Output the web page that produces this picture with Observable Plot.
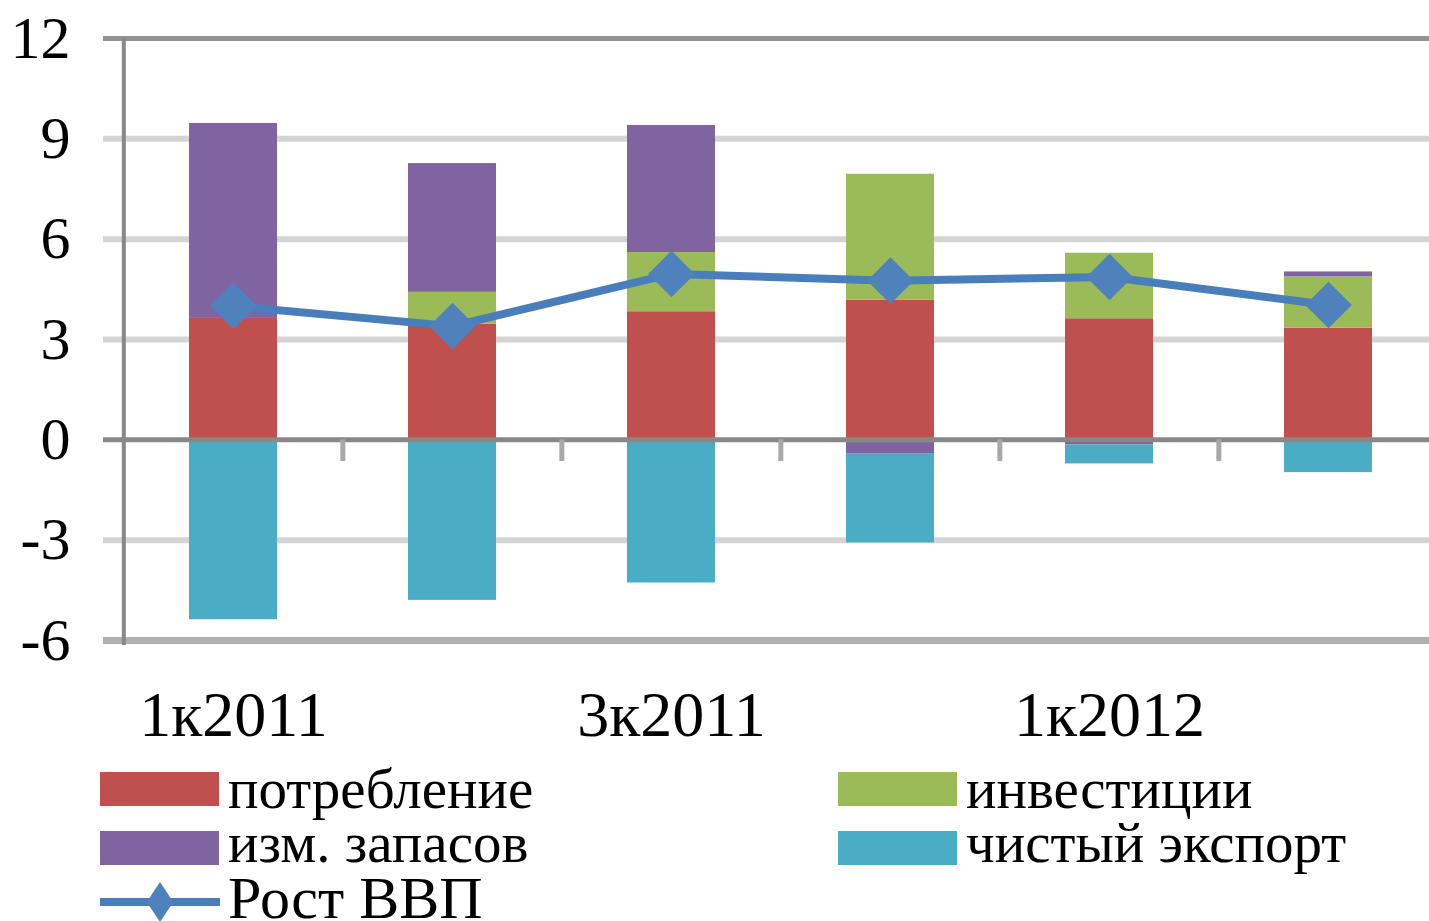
<!DOCTYPE html>
<html>
<head>
<meta charset="utf-8">
<script src="https://cdn.jsdelivr.net/npm/d3@7"></script>
<script src="https://cdn.jsdelivr.net/npm/@observablehq/plot@0.6"></script>
<style>
  html, body { margin: 0; padding: 0; background: #fff; }
  #chart svg { display: block; }
  #legend { margin-top: -20px; position: relative; }
  #legend svg { display: block; }
</style>
</head>
<body>
<div id="chart"></div>
<div id="legend"></div>
<script>
// ---- data ----
const quarters = ["1к2011", "2к2011", "3к2011", "4к2011", "1к2012", "2к2012"];
const shownLabels = ["1к2011", "3к2011", "1к2012"];
const seriesNames = ["потребление", "инвестиции", "изм. запасов", "чистый экспорт"];
const seriesColors = ["#C0504D", "#9BBB59", "#8064A2", "#4BACC6"];
const consumption = [3.63, 3.46, 3.83, 4.17, 3.62, 3.34];
const investment  = [0.0, 0.95, 1.77, 3.77, 1.96, 1.53];
const inventories = [5.83, 3.85, 3.80, -0.41, -0.15, 0.15];
const netExport   = [-5.38, -4.80, -4.28, -2.67, -0.57, -0.98];
const gdpName = "Рост ВВП";
const gdpGrowth   = [4.0, 3.4, 4.96, 4.76, 4.87, 4.03];
const yTicks = [-6, -3, 0, 3, 6, 9, 12];

const seriesValues = [consumption, investment, inventories, netExport];
const bars = [];
seriesNames.forEach((s, si) => {
  quarters.forEach((q, qi) => bars.push({q, s, v: seriesValues[si][qi]}));
});
const gdp = quarters.map((q, i) => ({q, v: gdpGrowth[i]}));

// ---- layout ----
const W = 1429, H = 760;
const xLeft = 122, xRight = 1438;
const STEP = (xRight - xLeft) / quarters.length;
const FONT = "'Liberation Serif', 'Times New Roman', serif";

const chart = Plot.plot({
  width: W,
  height: H,
  marginLeft: xLeft,
  marginRight: 0,
  marginTop: 38,
  marginBottom: 120,
  style: {fontFamily: FONT, fontSize: "60px", color: "#000", background: "transparent", overflow: "visible"},
  x: {domain: quarters, range: [xLeft, xRight], paddingInner: 0.6, paddingOuter: 0.3, axis: null, label: null},
  y: {domain: [-6, 12], axis: null, label: null},
  color: {domain: seriesNames, range: seriesColors},
  marks: [
    // gridlines
    Plot.ruleY(yTicks.filter(d => d !== 0 && d !== 12 && d !== -6), {stroke: "#d4d4d4", strokeWidth: 6, insetLeft: -19}),
    Plot.ruleY([12], {stroke: "#929292", strokeWidth: 5, insetLeft: -19}),
    Plot.ruleY([-6], {stroke: "#b0b0b0", strokeWidth: 7, insetLeft: -19}),
    // bars
    Plot.barY(bars, {x: "q", y: "v", fill: "s", order: seriesNames}),
    // zero axis line
    Plot.ruleY([0], {stroke: "#888888", strokeWidth: 5, insetLeft: -19}),
    // category separator ticks
    Plot.ruleX(quarters.slice(1), {x: d => d, dx: -STEP / 2, y1: 0, y2: -0.65, stroke: "#a8a8a8", strokeWidth: 5}),
    // left axis line
    Plot.ruleX([quarters[0]], {x: d => d, dx: -STEP / 2, y1: -6.15, y2: 12, stroke: "#888888", strokeWidth: 4}),
    // GDP line
    Plot.line(gdp, {x: "q", y: "v", stroke: "#4A7EBB", strokeWidth: 8}),
    Plot.dot(gdp, {x: "q", y: "v", symbol: "diamond2", r: 21, fill: "#4F81BD", stroke: "none"}),
    // y axis labels
    Plot.axisY({ticks: yTicks, tickSize: 0, tickPadding: 52, tickFormat: d => String(d), fontSize: 60, label: null}),
    // x axis labels
    Plot.axisX({anchor: "bottom", tickSize: 0, tickPadding: 50, fontSize: 64, label: null,
      tickFormat: d => shownLabels.includes(d) ? d : ""})
  ]
});
document.getElementById("chart").appendChild(chart);

// ---- legend ----
const OFF = 20;
const lg = d3.select("#legend").append("svg")
  .attr("width", W).attr("height", 181)
  .style("font-family", FONT)
  .style("overflow", "visible");
const legendItems = [
  {name: seriesNames[0], color: seriesColors[0], x: 100, row: 0},
  {name: seriesNames[1], color: seriesColors[1], x: 838, row: 0},
  {name: seriesNames[2], color: seriesColors[2], x: 100, row: 1},
  {name: seriesNames[3], color: seriesColors[3], x: 838, row: 1}
];
const rowTop = [12 + OFF, 71 + OFF];
const rowBase = [48 + OFF, 102 + OFF];
legendItems.forEach(it => {
  lg.append("rect").attr("x", it.x).attr("y", rowTop[it.row]).attr("width", 119).attr("height", 34).attr("fill", it.color);
  lg.append("text").attr("x", it.x + 128).attr("y", rowBase[it.row]).attr("font-size", 57)
    .attr("textLength", null).attr("fill", "#000").text(it.name);
});
lg.append("line").attr("x1", 100).attr("x2", 220).attr("y1", 142 + OFF).attr("y2", 142 + OFF).attr("stroke", "#4A7EBB").attr("stroke-width", 8);
lg.append("path").attr("d", d3.symbol(d3.symbolDiamond2, Math.PI * 15 * 15)()).attr("transform", `translate(160,${142 + OFF}) scale(0.8,1.2)`).attr("fill", "#4F81BD");
lg.append("text").attr("x", 228).attr("y", 158 + OFF).attr("font-size", 60).attr("fill", "#000").text(gdpName);
</script>
</body>
</html>
